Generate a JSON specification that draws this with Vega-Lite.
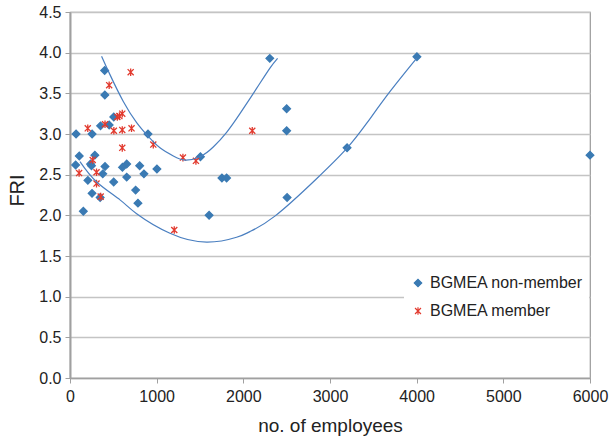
{
  "$schema": "https://vega.github.io/schema/vega-lite/v6.json",
  "width": 520,
  "height": 366,
  "autosize": {"type": "none"},
  "padding": {"left": 70, "top": 12, "right": 19, "bottom": 60},
  "background": "white",
  "config": {
    "font": "Liberation Sans",
    "view": {"stroke": "#9a9a9a", "strokeWidth": 1.2},
    "legend": {
      "orient": "none",
      "legendX": 334,
      "legendY": 257,
      "fillColor": "white",
      "padding": 6,
      "labelFontSize": 16,
      "labelColor": "#222222",
      "labelOffset": 4,
      "rowPadding": 12,
      "symbolSize": 55,
      "symbolStrokeWidth": 1.2
    }
  },
  "datasets": {
    "points": [
      {"employees": 70, "FRI": 3.00, "group": "BGMEA non-member"},
      {"employees": 255, "FRI": 3.00, "group": "BGMEA non-member"},
      {"employees": 900, "FRI": 3.00, "group": "BGMEA non-member"},
      {"employees": 400, "FRI": 3.78, "group": "BGMEA non-member"},
      {"employees": 402, "FRI": 3.48, "group": "BGMEA non-member"},
      {"employees": 505, "FRI": 3.21, "group": "BGMEA non-member"},
      {"employees": 352, "FRI": 3.10, "group": "BGMEA non-member"},
      {"employees": 452, "FRI": 3.11, "group": "BGMEA non-member"},
      {"employees": 107, "FRI": 2.73, "group": "BGMEA non-member"},
      {"employees": 287, "FRI": 2.74, "group": "BGMEA non-member"},
      {"employees": 65, "FRI": 2.62, "group": "BGMEA non-member"},
      {"employees": 236, "FRI": 2.63, "group": "BGMEA non-member"},
      {"employees": 248, "FRI": 2.61, "group": "BGMEA non-member"},
      {"employees": 404, "FRI": 2.60, "group": "BGMEA non-member"},
      {"employees": 654, "FRI": 2.63, "group": "BGMEA non-member"},
      {"employees": 605, "FRI": 2.59, "group": "BGMEA non-member"},
      {"employees": 804, "FRI": 2.61, "group": "BGMEA non-member"},
      {"employees": 1003, "FRI": 2.57, "group": "BGMEA non-member"},
      {"employees": 378, "FRI": 2.51, "group": "BGMEA non-member"},
      {"employees": 654, "FRI": 2.47, "group": "BGMEA non-member"},
      {"employees": 853, "FRI": 2.51, "group": "BGMEA non-member"},
      {"employees": 206, "FRI": 2.43, "group": "BGMEA non-member"},
      {"employees": 504, "FRI": 2.41, "group": "BGMEA non-member"},
      {"employees": 254, "FRI": 2.27, "group": "BGMEA non-member"},
      {"employees": 348, "FRI": 2.22, "group": "BGMEA non-member"},
      {"employees": 757, "FRI": 2.31, "group": "BGMEA non-member"},
      {"employees": 784, "FRI": 2.15, "group": "BGMEA non-member"},
      {"employees": 154, "FRI": 2.05, "group": "BGMEA non-member"},
      {"employees": 1505, "FRI": 2.72, "group": "BGMEA non-member"},
      {"employees": 1753, "FRI": 2.46, "group": "BGMEA non-member"},
      {"employees": 1807, "FRI": 2.46, "group": "BGMEA non-member"},
      {"employees": 1605, "FRI": 2.00, "group": "BGMEA non-member"},
      {"employees": 2305, "FRI": 3.93, "group": "BGMEA non-member"},
      {"employees": 2500, "FRI": 3.31, "group": "BGMEA non-member"},
      {"employees": 2500, "FRI": 3.04, "group": "BGMEA non-member"},
      {"employees": 2505, "FRI": 2.22, "group": "BGMEA non-member"},
      {"employees": 3197, "FRI": 2.83, "group": "BGMEA non-member"},
      {"employees": 4003, "FRI": 3.95, "group": "BGMEA non-member"},
      {"employees": 6000, "FRI": 2.74, "group": "BGMEA non-member"},
      {"employees": 700, "FRI": 3.76, "group": "BGMEA member"},
      {"employees": 452, "FRI": 3.60, "group": "BGMEA member"},
      {"employees": 603, "FRI": 3.25, "group": "BGMEA member"},
      {"employees": 570, "FRI": 3.22, "group": "BGMEA member"},
      {"employees": 546, "FRI": 3.21, "group": "BGMEA member"},
      {"employees": 404, "FRI": 3.12, "group": "BGMEA member"},
      {"employees": 205, "FRI": 3.07, "group": "BGMEA member"},
      {"employees": 506, "FRI": 3.04, "group": "BGMEA member"},
      {"employees": 603, "FRI": 3.05, "group": "BGMEA member"},
      {"employees": 710, "FRI": 3.07, "group": "BGMEA member"},
      {"employees": 961, "FRI": 2.87, "group": "BGMEA member"},
      {"employees": 603, "FRI": 2.83, "group": "BGMEA member"},
      {"employees": 262, "FRI": 2.68, "group": "BGMEA member"},
      {"employees": 105, "FRI": 2.52, "group": "BGMEA member"},
      {"employees": 306, "FRI": 2.53, "group": "BGMEA member"},
      {"employees": 306, "FRI": 2.39, "group": "BGMEA member"},
      {"employees": 354, "FRI": 2.23, "group": "BGMEA member"},
      {"employees": 1303, "FRI": 2.71, "group": "BGMEA member"},
      {"employees": 1453, "FRI": 2.67, "group": "BGMEA member"},
      {"employees": 1203, "FRI": 1.82, "group": "BGMEA member"},
      {"employees": 2103, "FRI": 3.04, "group": "BGMEA member"}
    ],
    "curves": [
      {"curve": "A", "employees": 365, "FRI": 3.955},
      {"curve": "A", "employees": 461, "FRI": 3.73},
      {"curve": "A", "employees": 615, "FRI": 3.40},
      {"curve": "A", "employees": 769, "FRI": 3.14},
      {"curve": "A", "employees": 903, "FRI": 2.97},
      {"curve": "A", "employees": 1038, "FRI": 2.83},
      {"curve": "A", "employees": 1192, "FRI": 2.73},
      {"curve": "A", "employees": 1326, "FRI": 2.68},
      {"curve": "A", "employees": 1499, "FRI": 2.72},
      {"curve": "A", "employees": 1653, "FRI": 2.84},
      {"curve": "A", "employees": 1807, "FRI": 3.02},
      {"curve": "A", "employees": 1961, "FRI": 3.25},
      {"curve": "A", "employees": 2153, "FRI": 3.56},
      {"curve": "A", "employees": 2307, "FRI": 3.81},
      {"curve": "A", "employees": 2395, "FRI": 3.93},
      {"curve": "B", "employees": 115, "FRI": 2.66},
      {"curve": "B", "employees": 308, "FRI": 2.41},
      {"curve": "B", "employees": 577, "FRI": 2.19},
      {"curve": "B", "employees": 769, "FRI": 2.02},
      {"curve": "B", "employees": 1153, "FRI": 1.78},
      {"curve": "B", "employees": 1577, "FRI": 1.67},
      {"curve": "B", "employees": 1922, "FRI": 1.73},
      {"curve": "B", "employees": 2076, "FRI": 1.80},
      {"curve": "B", "employees": 2364, "FRI": 1.99},
      {"curve": "B", "employees": 2845, "FRI": 2.45},
      {"curve": "B", "employees": 3191, "FRI": 2.82},
      {"curve": "B", "employees": 3422, "FRI": 3.13},
      {"curve": "B", "employees": 3691, "FRI": 3.52},
      {"curve": "B", "employees": 3999, "FRI": 3.93}
    ]
  },
  "layer": [
    {
      "data": {"name": "points"},
      "mark": {"type": "point", "filled": true, "size": 58, "strokeWidth": 1.3, "opacity": 1},
      "encoding": {
        "x": {
          "field": "employees", "type": "quantitative",
          "scale": {"domain": [0, 6000], "nice": false},
          "axis": {
            "values": [0, 1000, 2000, 3000, 4000, 5000, 6000],
            "format": "d",
            "grid": false,
            "title": "no. of employees",
            "titleFontSize": 19,
            "titleFontWeight": "normal",
            "titleColor": "#222222",
            "titleY": 53,
            "titleBaseline": "alphabetic",
            "labelFontSize": 16,
            "labelColor": "#222222",
            "labelPadding": 5,
            "labelFlush": false,
            "domainColor": "#a0a0a0",
            "domainWidth": 1.5,
            "tickColor": "#a0a0a0",
            "tickSize": 5
          }
        },
        "y": {
          "field": "FRI", "type": "quantitative",
          "scale": {"domain": [0, 4.5], "nice": false, "zero": true},
          "axis": {
            "values": [0, 0.5, 1, 1.5, 2, 2.5, 3, 3.5, 4, 4.5],
            "format": ".1f",
            "grid": true,
            "gridColor": "#c4c4c4",
            "gridWidth": 1.5,
            "title": "FRI",
            "titleFontSize": 20,
            "titleFontWeight": "normal",
            "titleColor": "#222222",
            "titleX": -47,
            "titleY": 178,
            "titleAngle": -90,
            "titleAlign": "center",
            "titleBaseline": "alphabetic",
            "labelFontSize": 16,
            "labelColor": "#222222",
            "labelPadding": 4,
            "domainColor": "#a0a0a0",
            "domainWidth": 2,
            "tickColor": "#a0a0a0",
            "tickSize": 5
          }
        },
        "fill": {
          "field": "group", "type": "nominal",
          "scale": {"domain": ["BGMEA non-member", "BGMEA member"], "range": ["#3a7ab3", "#e23a2e"]},
          "legend": {"title": null}
        },
        "stroke": {
          "field": "group", "type": "nominal",
          "scale": {"domain": ["BGMEA non-member", "BGMEA member"], "range": ["#3a7ab3", "#e23a2e"]},
          "legend": {"title": null}
        },
        "shape": {
          "field": "group", "type": "nominal",
          "scale": {"domain": ["BGMEA non-member", "BGMEA member"], "range": ["diamond", "M-0.8,-0.8L0.8,0.8M0.8,-0.8L-0.8,0.8M0,-1L0,1"]},
          "legend": {"title": null}
        }
      }
    },
    {
      "data": {"name": "curves"},
      "mark": {"type": "line", "color": "#4a7fc0", "strokeWidth": 1.2, "interpolate": "natural"},
      "encoding": {
        "x": {"field": "employees", "type": "quantitative"},
        "y": {"field": "FRI", "type": "quantitative"},
        "detail": {"field": "curve", "type": "nominal"}
      }
    }
  ]
}
